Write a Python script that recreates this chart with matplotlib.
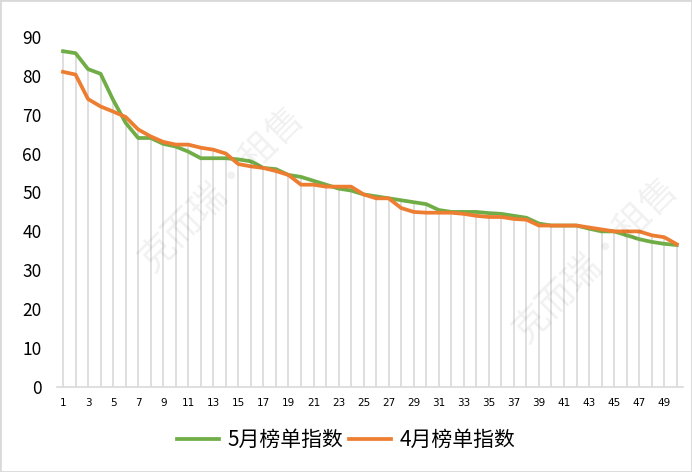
import numpy as np
import matplotlib.pyplot as plt
from matplotlib.patches import Rectangle

# rank positions
ranks = np.arange(1, 51)

# 5月榜单指数
may_idx = [86.3, 85.8, 81.7, 80.5, 73.8, 67.9, 64.0, 64.0, 62.5, 61.8,
           60.5, 58.8, 58.8, 58.8, 58.5, 58.0, 56.3, 56.0, 54.5, 54.0,
           53.0, 52.0, 51.0, 50.5, 49.5, 49.0, 48.5, 48.0, 47.5, 47.0,
           45.5, 45.0, 45.0, 45.0, 44.7, 44.5, 44.0, 43.5, 42.0, 41.5,
           41.5, 41.5, 40.7, 40.0, 40.0, 39.0, 38.0, 37.3, 36.8, 36.5]

# 4月榜单指数
apr_idx = [81.0, 80.3, 74.0, 72.1, 70.8, 69.4, 66.2, 64.4, 63.0, 62.3,
           62.3, 61.5, 61.0, 60.0, 57.3, 56.7, 56.3, 55.5, 54.5, 52.0,
           52.0, 51.5, 51.5, 51.5, 49.5, 48.5, 48.5, 46.0, 45.0, 44.8,
           44.8, 44.8, 44.5, 44.0, 43.7, 43.7, 43.2, 43.0, 41.5, 41.5,
           41.5, 41.5, 41.0, 40.5, 40.0, 40.0, 40.0, 39.0, 38.5, 36.7]

plt.rcParams['font.family'] = ['Noto Sans CJK SC', 'DejaVu Sans']

fig = plt.figure(figsize=(6.92, 4.72), dpi=100)
ax = fig.add_axes([0.082, 0.18, 0.905, 0.742])

# high-low drop lines
tops = np.maximum(may_idx, apr_idx)
ax.vlines(ranks, 0, tops, color='#d9d9d9', linewidth=1.2, zorder=1)

ax.plot(ranks, may_idx, color='#70ad47', linewidth=2.7, label='5月榜单指数', zorder=3)
ax.plot(ranks, apr_idx, color='#ed7d31', linewidth=2.7, label='4月榜单指数', zorder=4)

ax.set_xlim(0.5, 50.5)
ax.set_ylim(0, 90)
ax.set_yticks(np.arange(0, 91, 10))
ax.set_xticks(np.arange(1, 50, 2))
ax.tick_params(axis='y', length=0, labelsize=12.5, pad=11)
ax.tick_params(axis='x', length=0, labelsize=7.5, pad=8)
for lab in ax.get_xticklabels():
    lab.set_family('Liberation Sans Narrow')

for s in ['top', 'right', 'left']:
    ax.spines[s].set_visible(False)
ax.spines['bottom'].set_color('#d9d9d9')
ax.spines['bottom'].set_linewidth(1.2)

# faint watermark
for wx, wy in [(0.32, 0.60), (0.86, 0.45)]:
    fig.text(wx, wy, '克而瑞·租售', fontsize=26, color='#000000', alpha=0.06,
             rotation=45, ha='center', va='center')

fig.legend(loc='center', bbox_to_anchor=(0.5, 0.068), ncol=2, frameon=False,
           fontsize=15, handlelength=2.0, columnspacing=0.3, handletextpad=0.4)

# figure border
fig.patches.append(Rectangle((0, 0), 1, 1, transform=fig.transFigure,
                             fill=False, edgecolor='#d9d9d9', linewidth=2))

fig.savefig('out.png', dpi=100)
